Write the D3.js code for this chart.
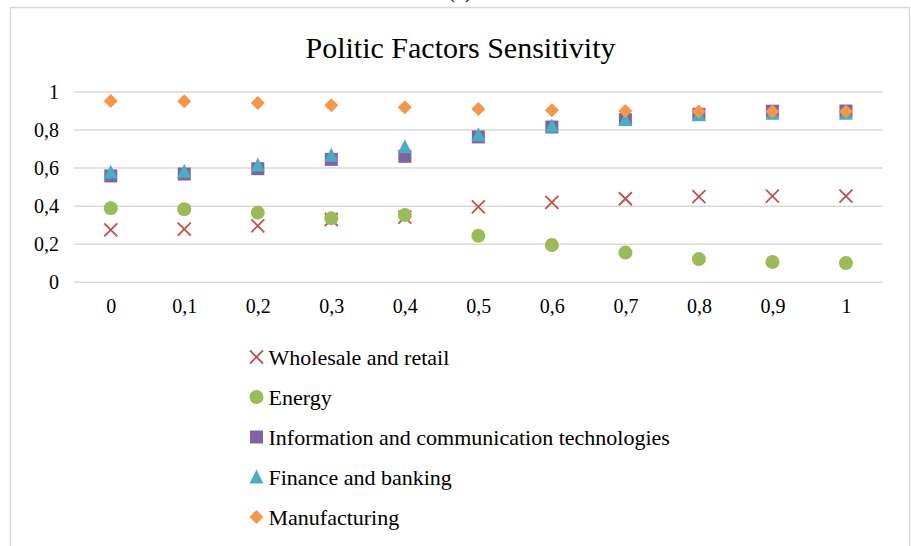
<!DOCTYPE html>
<html><head><meta charset="utf-8">
<script src="https://cdn.jsdelivr.net/npm/d3@7"></script>
<style>body{margin:0;background:#fff}svg{display:block}</style>
</head><body>
<script>
const categories = ["0","0,1","0,2","0,3","0,4","0,5","0,6","0,7","0,8","0,9","1"];
const yTicks = [0, 0.2, 0.4, 0.6, 0.8, 1];
const yTickLabels = ["0","0,2","0,4","0,6","0,8","1"];
const seriesNames = ["Wholesale and retail","Energy","Information and communication technologies","Finance and banking","Manufacturing"];
const wholesale = [0.275,0.280,0.297,0.330,0.342,0.396,0.420,0.439,0.450,0.453,0.453];
const energy = [0.389,0.384,0.366,0.336,0.354,0.245,0.196,0.156,0.122,0.107,0.101];
const ict = [0.559,0.569,0.597,0.646,0.662,0.764,0.816,0.855,0.883,0.899,0.900];
const finance = [0.578,0.584,0.616,0.668,0.712,0.776,0.821,0.856,0.881,0.888,0.888];
const manufacturing = [0.953,0.951,0.942,0.930,0.920,0.911,0.904,0.900,0.897,0.897,0.897];
const colors = ["#C0504D","#9BBB59","#8064A2","#4BACC6","#F79646"];
const shapes = ["x","circle","square","triangle","diamond"];
const allSeries = [wholesale, energy, ict, finance, manufacturing];

const FONT = "'Liberation Serif', 'DejaVu Serif', 'Times New Roman', Times, serif";
const W = 911, H = 546;
const svg = d3.select("body").append("svg").attr("width", W).attr("height", H)
  .style("font-family", FONT);

// frame
svg.append("rect").attr("x",10.5).attr("y",7.5).attr("width",899).attr("height",560)
  .attr("fill","none").attr("stroke","#d9d9d9").attr("stroke-width",1.5);
svg.append("text").attr("x",460).attr("y",-2).attr("text-anchor","middle")
  .style("font-family",FONT).attr("font-size",20).text("(b)");

// title
svg.append("text").attr("x",460.5).attr("y",58).attr("text-anchor","middle")
  .style("font-family",FONT).attr("font-size",30).text("Politic Factors Sensitivity");

const x = d3.scalePoint().domain(categories).range([74, 882.7]).padding(0.5);
const y = d3.scaleLinear().domain([0,1]).range([282.3, 92]);

// gridlines
svg.append("g").selectAll("line").data(yTicks).join("line")
  .attr("x1",74).attr("x2",882.7).attr("y1",d=>y(d)).attr("y2",d=>y(d))
  .attr("stroke","#d9d9d9").attr("stroke-width",1.5);

// y axis labels
const yAxis = d3.axisLeft(y).tickValues(yTicks).tickSize(0).tickPadding(0)
  .tickFormat((d,i)=>yTickLabels[i]);
const gy = svg.append("g").attr("transform","translate(59,0)").call(yAxis);
gy.select(".domain").remove();
gy.selectAll("text").style("font-family",FONT).attr("font-size",20).attr("fill","#000");

// x axis labels
const xAxis = d3.axisBottom(x).tickSize(0).tickPadding(0);
const gx = svg.append("g").attr("transform","translate(0,299)").call(xAxis);
gx.select(".domain").remove();
gx.selectAll("text").style("font-family",FONT).attr("font-size",20).attr("fill","#000");

function drawMarker(g, shape, color, s) {
  if (shape === "x") {
    const h = s/2;
    g.append("path").attr("d",`M${-h},${-h}L${h},${h}M${-h},${h}L${h},${-h}`)
      .attr("stroke",color).attr("stroke-width",1.8).attr("fill","none");
  } else if (shape === "circle") {
    g.append("circle").attr("r",s/2+0.5).attr("fill",color);
  } else if (shape === "square") {
    g.append("rect").attr("x",-s/2).attr("y",-s/2).attr("width",s).attr("height",s).attr("fill",color);
  } else if (shape === "triangle") {
    const h = s/2;
    g.append("path").attr("d",`M0,${-h-1}L${h+0.5},${h}L${-h-0.5},${h}Z`).attr("fill",color);
  } else if (shape === "diamond") {
    const h = s/2+0.5;
    g.append("path").attr("d",`M0,${-h}L${h},0L0,${h}L${-h},0Z`).attr("fill",color);
  }
}

allSeries.forEach((vals, si) => {
  const g = svg.append("g");
  vals.forEach((v, i) => {
    const m = g.append("g").attr("transform",`translate(${x(categories[i])},${y(v)})`);
    drawMarker(m, shapes[si], colors[si], 13);
  });
});

// legend
const legend = svg.append("g");
seriesNames.forEach((name, i) => {
  const cy = 357 + i*40;
  const m = legend.append("g").attr("transform",`translate(256.5,${cy})`);
  drawMarker(m, shapes[i], colors[i], 13);
  legend.append("text").attr("x",268.5).attr("y",cy).attr("dy","0.35em")
    .style("font-family",FONT).attr("font-size",22).text(name);
});
</script>
</body></html>
